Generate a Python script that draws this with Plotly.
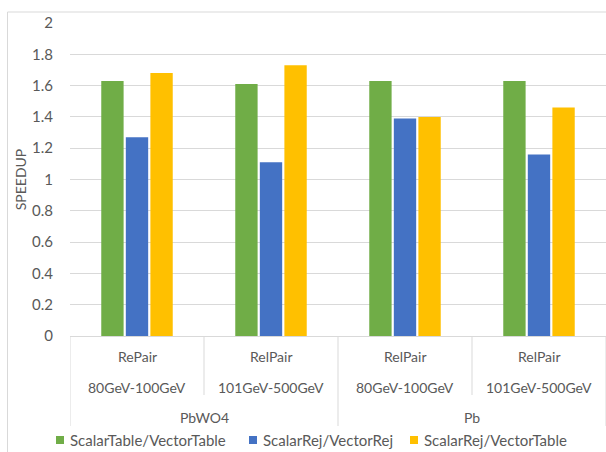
import plotly.graph_objects as go

# Benchmark configurations (three-level category axis)
methods = ["RePair", "RelPair", "RelPair", "RelPair"]
energies = ["80GeV-100GeV", "101GeV-500GeV", "80GeV-100GeV", "101GeV-500GeV"]
materials = ["PbWO4", "PbWO4", "Pb", "Pb"]

# Speedup ratios per configuration
series_names = ["ScalarTable/VectorTable", "ScalarRej/VectorRej", "ScalarRej/VectorTable"]
table_vs_table = [1.63, 1.61, 1.63, 1.63]
rej_vs_rej = [1.27, 1.11, 1.39, 1.16]
rej_vs_table = [1.68, 1.73, 1.40, 1.46]
series_values = [table_vs_table, rej_vs_rej, rej_vs_table]
series_colors = ["#70AD47", "#4472C4", "#FFC000"]

y_ticks = [0, 0.2, 0.4, 0.6, 0.8, 1, 1.2, 1.4, 1.6, 1.8, 2]

FONT = "Lato"
TEXT = "#595959"
GRID = "#D9D9D9"

W, H = 606, 452
ML, MR, MT, MB = 70, 0, 23, 116
plot_h = H - MT - MB

# Left edge (page pixels) of each legend swatch
legend_x = [56, 249, 410]
legend_y = 440


def py(pixel_y):
    """Convert a page y position to paper coordinates."""
    return (H - MB - pixel_y) / plot_h


def px(pixel_x):
    return (pixel_x - ML) / (W - ML - MR)


positions = list(range(len(methods)))

fig = go.Figure()
for name, vals, color in zip(series_names, series_values, series_colors):
    fig.add_trace(go.Bar(
        x=positions, y=vals, name=name,
        marker=dict(color=color, line=dict(width=0)),
    ))

# Inner category labels (method and energy range)
for i, (m, e) in enumerate(zip(methods, energies)):
    fig.add_annotation(x=i, y=py(356), xref="x", yref="paper", text=m,
                       showarrow=False, yanchor="middle",
                       font=dict(family=FONT, size=14, color=TEXT))
    fig.add_annotation(x=i, y=py(387), xref="x", yref="paper", text=e,
                       showarrow=False, yanchor="middle",
                       font=dict(family=FONT, size=14, color=TEXT))

# Outer category labels (material), centred on their groups
groups = []
for i, mat in enumerate(materials):
    if not groups or groups[-1][0] != mat:
        groups.append([mat, i, i])
    else:
        groups[-1][2] = i
for mat, a, b in groups:
    fig.add_annotation(x=(a + b) / 2, y=py(417), xref="x", yref="paper", text=mat,
                       showarrow=False, yanchor="middle",
                       font=dict(family=FONT, size=14, color=TEXT))

# Category separators: short ones between inner labels, long ones between groups
group_edges = {a - 0.5 for _, a, _ in groups} | {b + 0.5 for _, _, b in groups}
for i in range(len(methods) + 1):
    edge = i - 0.5
    bottom = py(426) if edge in group_edges else py(395)
    fig.add_shape(type="line", xref="x", yref="paper", x0=edge, x1=edge,
                  y0=0, y1=bottom, line=dict(color=GRID, width=1))

# Legend row: colour swatch followed by series name
for name, color, lx in zip(series_names, series_colors, legend_x):
    fig.add_shape(type="rect", xref="paper", yref="paper",
                  x0=px(lx), x1=px(lx + 8), y0=py(legend_y + 4), y1=py(legend_y - 4),
                  line=dict(width=0), fillcolor=color)
    fig.add_annotation(x=px(lx + 12), y=py(legend_y), xref="paper", yref="paper",
                       text=name, showarrow=False, xanchor="left", yanchor="middle",
                       font=dict(family=FONT, size=15, color=TEXT))

# Light chart-area border
fig.add_shape(type="rect", xref="paper", yref="paper",
              x0=px(7.5), x1=px(620), y0=py(470), y1=py(12),
              line=dict(color=GRID, width=1), fillcolor="rgba(0,0,0,0)", layer="below")

fig.update_layout(
    width=W, height=H,
    margin=dict(l=ML, r=MR, t=MT, b=MB),
    paper_bgcolor="white", plot_bgcolor="white",
    font=dict(family=FONT, size=14, color=TEXT),
    barmode="group", bargap=0.45, bargroupgap=0.09,
    showlegend=False,
    xaxis=dict(range=[-0.5, len(methods) - 0.5], showticklabels=False, showgrid=False,
               zeroline=False, showline=False, ticks=""),
    yaxis=dict(range=[0, 2], tickvals=y_ticks, ticktext=[f"{v:g}" for v in y_ticks],
               showgrid=True, gridcolor=GRID, gridwidth=1,
               zeroline=True, zerolinecolor=GRID, zerolinewidth=1,
               showline=False, ticks="", ticklabelstandoff=16,
               tickfont=dict(family=FONT, size=15, color=TEXT),
               title=dict(text="SPEEDUP", font=dict(family=FONT, size=14, color=TEXT),
                          standoff=2)),
)

fig.write_html("out.html")
